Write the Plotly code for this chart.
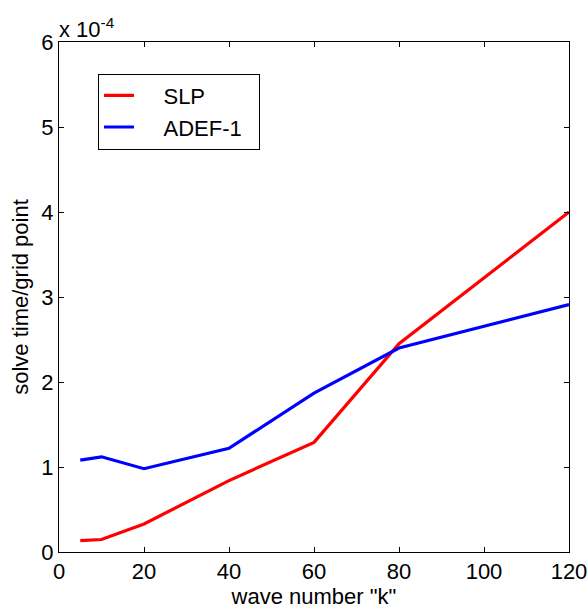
import plotly.graph_objects as go

k = [5, 10, 20, 40, 60, 80, 120]
slp = [0.135e-4, 0.147e-4, 0.33e-4, 0.84e-4, 1.29e-4, 2.45e-4, 4.0e-4]
adef1 = [1.08e-4, 1.12e-4, 0.98e-4, 1.22e-4, 1.87e-4, 2.40e-4, 2.91e-4]
series_names = ["SLP", "ADEF-1"]
xticks = [0, 20, 40, 60, 80, 100, 120]
yticks = [0, 1e-4, 2e-4, 3e-4, 4e-4, 5e-4, 6e-4]
ytick_labels = ["0", "1", "2", "3", "4", "5", "6"]

FONT = "Liberation Sans, Arial, sans-serif"
FS = 22
NB = "\u00a0"

fig = go.Figure()
fig.add_trace(go.Scatter(x=k, y=slp, mode="lines", name=NB * 4 + series_names[0],
                         line=dict(color="#ff0000", width=3.2)))
fig.add_trace(go.Scatter(x=k, y=adef1, mode="lines", name=NB * 4 + series_names[1] + NB * 2,
                         line=dict(color="#0000ff", width=3.2)))

axis_common = dict(showgrid=False, zeroline=False, showline=True, mirror="ticks",
                   linecolor="black", linewidth=1, ticks="inside", ticklen=5,
                   tickcolor="black", ticklabeloverflow="allow",
                   tickfont=dict(size=FS, color="black", family=FONT))

fig.update_layout(
    width=587, height=609,
    margin=dict(l=59, r=18, t=42, b=57, autoexpand=False),
    paper_bgcolor="white", plot_bgcolor="white",
    font=dict(family=FONT, color="black", size=FS),
    xaxis=dict(range=[0, 120], tickvals=xticks,
               title=dict(text='wave number "k"', font=dict(size=FS), standoff=0),
               **axis_common),
    yaxis=dict(range=[0, 6e-4], tickvals=yticks, ticktext=ytick_labels,
               title=dict(text="solve time/grid point", font=dict(size=FS), standoff=6),
               **axis_common),
    legend=dict(x=0.0765, y=0.938, xanchor="left", yanchor="top",
                bordercolor="black", borderwidth=1, bgcolor="white",
                font=dict(size=FS), tracegroupgap=0),
    showlegend=True,
)
fig.add_annotation(xref="paper", yref="paper", x=0, y=1, xanchor="left", yanchor="bottom",
                   yshift=-2, xshift=-2, showarrow=False,
                   text="x 10<sup>-4</sup>", font=dict(size=FS, family=FONT))
fig.write_html("out.html")
